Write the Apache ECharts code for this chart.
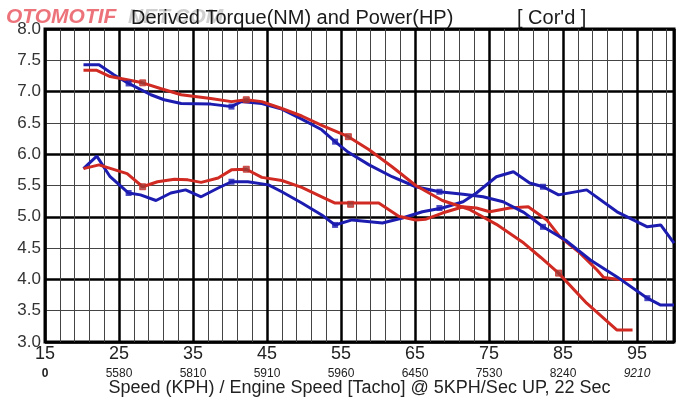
<!DOCTYPE html>
<html>
<head>
<meta charset="utf-8">
<script src="https://cdn.jsdelivr.net/npm/echarts@6/dist/echarts.min.js"></script>
<style>
html, body { margin: 0; padding: 0; background: #fff; }
#main { width: 700px; height: 399px; }
</style>
</head>
<body>
<div id="main"></div>
<script>
// speed ticks and engine speed read under them
var xTicks = [15, 25, 35, 45, 55, 65, 75, 85, 95];
var rpmLabels = ['0', '5580', '5810', '5910', '5960', '6450', '7530', '8240', '9210'];

// [speed kph, value]
var blueTorque = [[20.2,7.43],[22.3,7.43],[24.3,7.27],[26.3,7.13],[29.3,6.95],[31.1,6.87],[33.4,6.81],[37.4,6.80],[40.2,6.76],[41.5,6.84],[44.3,6.81],[47,6.72],[49.7,6.56],[52.4,6.39],[54.2,6.20],[56,6.03],[58.8,5.83],[61.9,5.64],[65.1,5.48],[68.3,5.40],[71.5,5.36],[74.2,5.32],[76.9,5.24],[79.7,5.07],[82.3,4.84],[85.3,4.63],[88.7,4.31],[92.3,4.04],[96.4,3.70],[98.2,3.59],[100,3.59]];
var redTorque = [[20.2,7.34],[22,7.34],[23.8,7.24],[26.1,7.19],[28.2,7.14],[30.6,7.05],[33.4,6.95],[37.4,6.89],[40.2,6.84],[42.2,6.87],[44.3,6.84],[47,6.73],[49.7,6.61],[52.4,6.46],[56,6.28],[58.8,6.07],[61.9,5.80],[65.1,5.50],[68.7,5.26],[72.3,5.12],[76,4.88],[79.7,4.58],[82,4.35],[84.4,4.10],[88.2,3.62],[92.3,3.19],[94.4,3.19]];
var bluePower = [[20.2,5.77],[22,5.97],[23.8,5.64],[26.3,5.38],[27.9,5.35],[30,5.26],[32,5.38],[34,5.43],[36.1,5.32],[38.4,5.46],[40.2,5.56],[42.4,5.56],[45.2,5.51],[47,5.40],[49.7,5.22],[52.4,5.03],[54.2,4.87],[56.5,4.95],[60.6,4.90],[63.3,4.98],[66,5.08],[68.7,5.14],[71.5,5.24],[73.3,5.38],[76,5.64],[78.3,5.72],[80.5,5.54],[82.3,5.48],[84.4,5.35],[88.2,5.43],[92.3,5.08],[96.4,4.84],[98.2,4.87],[100,4.58]];
var redPower = [[20.2,5.77],[22.3,5.83],[26.1,5.69],[28.2,5.48],[30.2,5.56],[32.5,5.60],[34.3,5.59],[36.1,5.55],[38.4,5.62],[40.2,5.75],[42.2,5.76],[44.3,5.63],[47,5.58],[49.7,5.47],[52.4,5.32],[54.2,5.22],[60.1,5.22],[62.8,5.01],[65.1,4.95],[66.4,4.96],[68.7,5.06],[71.5,5.16],[73.3,5.14],[75.1,5.08],[77.8,5.14],[80.3,5.16],[82.8,4.95],[84.6,4.68],[87.3,4.42],[89.6,4.15],[90.5,4.03],[92.6,4.00],[94.4,4.00]];

// little square markers on the curves
var blueMarks = [[26.3,7.13],[40.2,6.76],[54.2,6.20],[68.3,5.40],[82.3,4.84],[96.4,3.70],[26.3,5.38],[40.2,5.56],[54.2,4.87],[68.3,5.14],[82.3,5.48]];
var redMarks = [[28.2,7.14],[42.2,6.87],[56,6.28],[84.4,4.10],[28.2,5.48],[42.2,5.76],[56.3,5.20]];

var RED = '#d02a22';
var BLUE = '#1c1cb0';
var FONT = 'Liberation Sans';

var myChart = echarts.init(document.getElementById('main'));

function lineSeries(data, color) {
    return {
        type: 'line',
        data: data,
        showSymbol: false,
        symbol: 'none',
        lineStyle: { color: color, width: 3 },
        z: 5,
        silent: true
    };
}

function gridAxis(interval, color, width) {
    // helper axis only for vertical grid lines (0..85 = 15..100 kph)
    return {
        type: 'value', min: 0, max: 85, interval: interval,
        position: 'bottom',
        axisLine: { show: false }, axisTick: { show: false }, axisLabel: { show: false },
        splitLine: { show: true, lineStyle: { color: color, width: width } }
    };
}

myChart.setOption({
    animation: false,
    textStyle: { fontFamily: FONT },
    title: [{
        text: 'Derived Torque(NM) and Power(HP)',
        left: 126, top: 3,
        textStyle: { fontSize: 20, fontWeight: 'normal', color: '#1a1a1a', fontFamily: FONT }
    }, {
        text: "[ Cor'd ]",
        left: 512, top: 3,
        textStyle: { fontSize: 20, fontWeight: 'normal', color: '#1a1a1a', fontFamily: FONT }
    }],
    graphic: [{
        type: 'text', left: 6, top: 7, z: -1,
        style: { text: 'OTOMOTIF', fill: 'rgba(232,80,90,0.8)', font: 'italic bold 21px "Liberation Sans"' }
    }, {
        type: 'text', left: 128, top: 7, z: -1,
        style: { text: 'NET.COM', fill: 'rgba(170,170,170,0.55)', font: 'italic bold 21px "Liberation Sans"' }
    }],
    grid: {
        left: 45, right: 26, top: 29, bottom: 57,
        containLabel: false,
        outerBoundsMode: 'none',
        show: true, borderColor: '#000', borderWidth: 3
    },
    xAxis: [{
        type: 'value', min: 15, max: 100, interval: 5,
        axisLine: { show: false }, axisTick: { show: false },
        splitLine: { show: false },
        axisLabel: {
            margin: 3,
            color: '#222',
            fontSize: 18,
            lineHeight: 19,
            formatter: function (v) {
                var i = xTicks.indexOf(v);
                if (i < 0) return '';
                var key = i === 0 ? 'z' : (i === rpmLabels.length - 1 ? 'e' : 'r');
                return v + '\n{' + key + '|' + rpmLabels[i] + '}';
            },
            rich: {
                r: { fontSize: 12, color: '#222', lineHeight: 19 },
                z: { fontSize: 12, fontWeight: 'bold', color: '#222', lineHeight: 19 },
                e: { fontSize: 12, fontStyle: 'italic', color: '#222', lineHeight: 19 }
            }
        },
        name: 'Speed (KPH) / Engine Speed [Tacho] @ 5KPH/Sec UP, 22 Sec',
        nameLocation: 'middle',
        nameMoveOverlap: false,
        nameGap: 37,
        nameTextStyle: { fontSize: 18, color: '#222' }
    },
    gridAxis(2, '#444', 1),
    gridAxis(10, '#000', 2.5)
    ],
    yAxis: [{
        type: 'value', min: 3, max: 8, interval: 0.5,
        axisLine: { show: false }, axisTick: { show: false },
        axisLabel: {
            margin: 4, color: '#333', fontSize: 17,
            formatter: function (v) { return v.toFixed(1); }
        },
        splitLine: { show: true, lineStyle: { color: '#444', width: 1 } }
    }, {
        type: 'value', min: 3, max: 8, interval: 1,
        position: 'left',
        axisLine: { show: false }, axisTick: { show: false }, axisLabel: { show: false },
        splitLine: { show: true, lineStyle: { color: '#000', width: 2.5 } }
    }],
    series: [
        lineSeries(bluePower, BLUE),
        lineSeries(redPower, RED),
        lineSeries(blueTorque, BLUE),
        lineSeries(redTorque, RED),
        {
            type: 'scatter', data: blueMarks, symbol: 'rect', symbolSize: 6, z: 6, silent: true,
            itemStyle: { color: BLUE }
        },
        {
            type: 'scatter', data: redMarks, symbol: 'rect', symbolSize: 6, z: 6, silent: true,
            itemStyle: { color: '#9a3a36', borderColor: RED, borderWidth: 1 }
        }
    ]
});
</script>
</body>
</html>
